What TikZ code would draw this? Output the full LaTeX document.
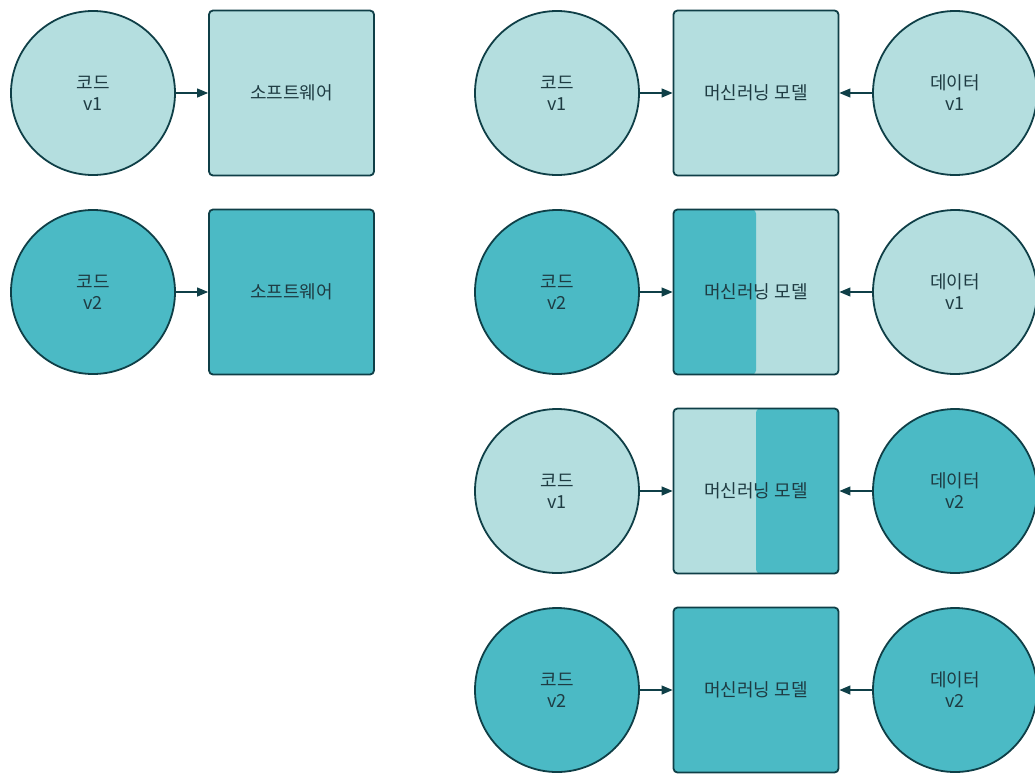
\documentclass[tikz,border=0pt]{standalone}
\usepackage{fontspec}
\setmainfont{Noto Sans CJK KR}
\usetikzlibrary{arrows.meta}
\definecolor{lightc}{HTML}{B4DEDF}
\definecolor{darkc}{HTML}{4BBAC5}
\definecolor{edge}{HTML}{0F3F47}
\definecolor{txt}{HTML}{1E3B42}
\tikzset{
  base/.style={draw=edge, line width=1.8pt, text=txt, font=\fontsize{18}{21}\selectfont, align=center, inner sep=0pt},
  circ/.style={base, circle, minimum size=164pt},
  sq/.style={base, rectangle, rounded corners=4pt, minimum width=165pt, minimum height=165pt},
  lt/.style={fill=lightc},
  dk/.style={fill=darkc},
  leftdark/.style={fill=lightc, path picture={\fill[darkc] (path picture bounding box.south west) rectangle (path picture bounding box.north);}},
  rightdark/.style={fill=lightc, path picture={\fill[darkc] (path picture bounding box.south) rectangle (path picture bounding box.north east);}},
  arr/.style={draw=edge, line width=1.2pt, -{Triangle[length=11pt,width=9pt]}}
}
\begin{document}
\begin{tikzpicture}[x=1pt,y=-1pt]
\useasboundingbox (0,0) rectangle (1035,774);
% left column
\node[circ,lt] (c1) at (93,93) {코드\\v1};
\node[sq,lt] (s1) at (291.5,93) {소프트웨어};
\node[circ,dk] (c2) at (93,292) {코드\\v2};
\node[sq,dk] (s2) at (291.5,292) {소프트웨어};
\draw[arr] (c1) -- (s1);
\draw[arr] (c2) -- (s2);
% right column
\node[circ,lt] (rc1) at (557,93) {코드\\v1};
\node[sq,lt] (m1) at (756,93) {머신러닝 모델};
\node[circ,lt] (d1) at (955,93) {데이터\\v1};
\node[circ,dk] (rc2) at (557,292) {코드\\v2};
\node[sq,leftdark] (m2) at (756,292) {머신러닝 모델};
\node[circ,lt] (d2) at (955,292) {데이터\\v1};
\node[circ,lt] (rc3) at (557,491) {코드\\v1};
\node[sq,rightdark] (m3) at (756,491) {머신러닝 모델};
\node[circ,dk] (d3) at (955,491) {데이터\\v2};
\node[circ,dk] (rc4) at (557,690) {코드\\v2};
\node[sq,dk] (m4) at (756,690) {머신러닝 모델};
\node[circ,dk] (d4) at (955,690) {데이터\\v2};
\foreach \i in {1,2,3,4}{
  \draw[arr] (rc\i) -- (m\i);
  \draw[arr] (d\i) -- (m\i);
}
\end{tikzpicture}
\end{document}
